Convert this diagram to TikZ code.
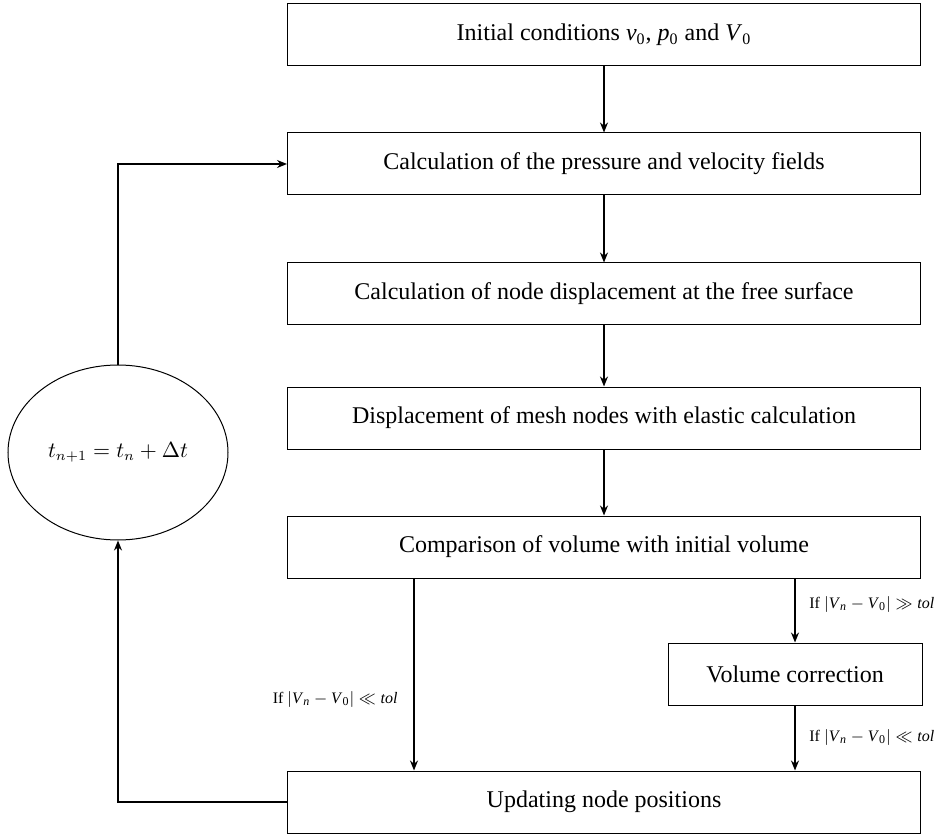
\documentclass[tikz,border=0pt]{standalone}
\usepackage{fontspec}
\setmainfont{Liberation Serif}
\usetikzlibrary{arrows.meta,shapes.geometric}
\tikzset{
  stepbox/.style={draw, line width=0.5pt, inner sep=0pt, minimum width=316.5pt, minimum height=31pt, font=\fontsize{12}{14}\selectfont},
  smallbox/.style={draw, line width=0.5pt, inner sep=0pt, minimum width=127pt, minimum height=31pt, font=\fontsize{12}{14}\selectfont},
  loopell/.style={draw, ellipse, line width=0.5pt, inner sep=0pt, minimum width=110pt, minimum height=87.5pt, font=\fontsize{10.5}{13}\selectfont},
  arr/.style={-{Stealth[length=5pt,width=4pt]}, line width=0.8pt},
  lbl/.style={inner sep=0pt, font=\fontsize{8}{10}\selectfont}
}
\newcommand{\condlabel}[1]{If $|$\textit{V}\textsubscript{\textit{n}}${}-{}$\textit{V}\textsubscript{0}$|#1{}$\textit{tol}}
\begin{document}
\begin{tikzpicture}[x=0.5pt,y=-0.5pt]
\useasboundingbox (0,0) rectangle (937,834);
\node[stepbox] (b1) at (604,35) {Initial conditions \textit{v}\textsubscript{0}, \textit{p}\textsubscript{0} and \textit{V}\textsubscript{0}};
\node[stepbox] (b2) at (604,164) {Calculation of the pressure and velocity fields};
\node[stepbox] (b3) at (604,294) {Calculation of node displacement at the free surface};
\node[stepbox] (b4) at (604,418) {Displacement of mesh nodes with elastic calculation};
\node[stepbox] (b5) at (604,547) {Comparison of volume with initial volume};
\node[smallbox] (vc) at (795,674) {Volume correction};
\node[stepbox] (b6) at (604,802) {Updating node positions};
\node[loopell] (ell) at (118,452.5) {$t_{n+1}=t_n+\Delta t$};
\coordinate (lx) at (414,0);

\draw[arr] (b1) -- (b2);
\draw[arr] (b2) -- (b3);
\draw[arr] (b3) -- (b4);
\draw[arr] (b4) -- (b5);
\draw[arr] (b5.south -| lx) -- (b6.north -| lx);
\draw[arr] (b5.south -| vc.north) -- (vc.north);
\draw[arr] (vc.south) -- (vc.south |- b6.north);
\draw[arr] (b6.west) -| (ell.south);
\draw[arr] (ell.north) |- (b2.west);

\node[lbl, anchor=west] (l1) at (809,604) {\condlabel{\gg}};
\node[lbl, anchor=west] (l2) at (809,737) {\condlabel{\ll}};
\node[lbl, anchor=east] (l3) at (398,699) {\condlabel{\ll}};
\end{tikzpicture}
\end{document}
